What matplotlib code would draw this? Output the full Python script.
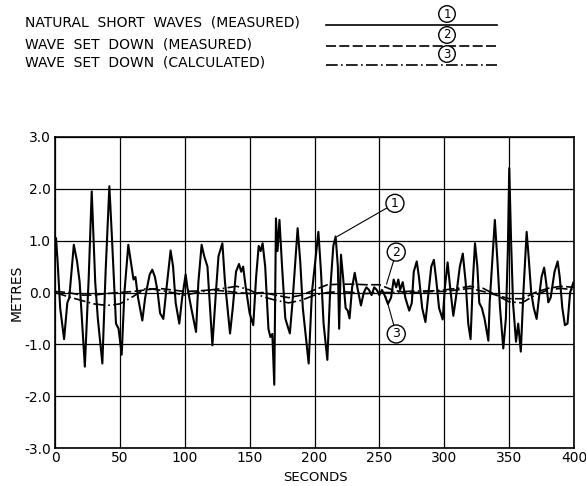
import numpy as np
import matplotlib
matplotlib.use("Agg")
import matplotlib.pyplot as plt

# ---- data ----
short_t = [0, 0.8, 2, 4, 7, 9.5, 11, 14.5, 17, 19, 23, 26, 28.3, 31, 33, 36.5, 39, 41.9, 44, 47, 49,
           51.4, 53.5, 56.5, 59, 60.5, 62, 64, 67.3, 69.5, 71, 73, 75, 77, 79, 81, 83.5, 86, 89.1, 91,
           93, 95.8, 98, 100.7, 102, 105, 108.7, 110.5, 113, 115, 117.5, 121.3, 124, 126, 129, 131,
           134.9, 137, 139.5, 141.8, 143.5, 145, 147, 150, 152.8, 155, 157, 158.5, 160, 162, 164.5,
           166, 167.5, 169, 170.3, 171.5, 173, 175, 177.5, 181, 183, 187, 189, 191, 194, 195.5, 198,
           203, 205, 207, 209.9, 212, 214.5, 216.3, 218, 219, 220.4, 222, 224, 225.6, 227, 229, 231,
           233, 235.8, 238, 240, 242, 244, 246, 248, 250, 252, 254, 256.6, 259, 261, 263, 264.6, 266,
           268, 270, 273, 275, 276.5, 278.8, 280.5, 283, 285.5, 287.5, 290, 292, 294, 296, 298.8,
           300.5, 302.6, 304.5, 307, 309, 312, 314.3, 316.5, 318.5, 320.3, 322, 323.7, 325.5, 327,
           329, 331, 334, 335, 337, 339, 341, 343, 345.5, 347.5, 349, 350.1, 351.5, 353, 355.3, 357,
           359, 361, 363.5, 365, 367, 369, 371.2, 373, 375, 377, 378.5, 380.2, 382, 385, 387.4, 389,
           391, 393, 395, 397, 399.5]
short_v = [0.7, 1.05, 0.6, -0.3, -0.9, -0.2, -0.1, 0.92, 0.6, 0.2, -1.43, 0.3, 1.95, 0.2, -0.5, -1.37,
           0.4, 2.05, 1.0, -0.6, -0.7, -1.2, 0.0, 0.92, 0.5, 0.25, 0.3, -0.1, -0.54, -0.1, 0.1, 0.35,
           0.44, 0.3, 0.03, -0.4, -0.51, 0.1, 0.81, 0.5, -0.2, -0.6, -0.1, 0.35, 0.1, -0.3, -0.76, 0.2,
           0.92, 0.7, 0.5, -1.02, 0.0, 0.7, 0.95, 0.2, -0.79, -0.3, 0.4, 0.55, 0.4, 0.5, 0.1, -0.4,
           -0.63, 0.3, 0.9, 0.8, 0.95, 0.5, -0.7, -0.86, -0.8, -1.78, 1.43, 0.8, 1.4, 0.5, -0.5, -0.79,
           -0.2, 1.24, 0.6, -0.3, -1.0, -1.37, 0.0, 1.17, 0.4, -0.6, -1.3, 0.0, 0.9, 1.08, 0.5, -0.7,
           0.73, 0.3, -0.3, -0.35, -0.5, 0.1, 0.38, 0.1, -0.25, 0.0, 0.1, 0.05, -0.05, 0.1, 0.05,
           -0.05, 0.05, -0.05, -0.22, -0.1, 0.25, 0.1, 0.25, 0.05, 0.2, -0.1, -0.35, -0.2, 0.4, 0.6,
           0.3, -0.3, -0.57, -0.1, 0.5, 0.63, 0.2, -0.3, -0.52, 0.1, 0.58, 0.1, -0.45, -0.1, 0.5, 0.75,
           0.2, -0.6, -0.9, 0.2, 0.95, 0.5, -0.2, -0.3, -0.5, -0.93, -0.2, 0.6, 1.4, 0.6, -0.3, -1.08,
           -0.5, 0.8, 2.4, 1.0, -0.2, -0.95, -0.6, -1.14, 0.0, 1.17, 0.7, 0.0, -0.3, -0.51, -0.1, 0.3,
           0.48, 0.2, -0.19, -0.1, 0.4, 0.6, 0.3, -0.3, -0.63, -0.6, 0.0, 0.19]

setdown_t = [0, 10, 20, 30, 40, 50, 60, 70, 80, 90, 100, 110, 120, 130, 140, 150, 160, 170, 180, 190,
             200, 210, 220, 230, 240, 250, 260, 270, 280, 290, 300, 310, 320, 330, 340, 350, 360, 370,
             380, 390, 400]
setdown_measured = [0.02, 0.0, -0.05, -0.05, -0.02, 0.0, 0.02, 0.05, 0.08, 0.05, 0.02, 0.03, 0.05,
                    0.03, 0.0, -0.02, 0.0, -0.05, -0.1, -0.05, 0.05, 0.15, 0.16, 0.16, 0.15, 0.15,
                    0.05, 0.0, 0.0, 0.02, 0.02, 0.05, 0.08, 0.02, -0.05, -0.12, -0.12, 0.0, 0.08,
                    0.12, 0.1]
setdown_calculated = [0.0, -0.08, -0.15, -0.22, -0.25, -0.22, -0.08, 0.08, 0.05, 0.0, -0.05, 0.0, 0.05,
                      0.08, 0.12, 0.05, -0.08, -0.15, -0.2, -0.15, -0.05, 0.0, 0.02, 0.0, -0.02, 0.0,
                      0.0, 0.02, 0.03, 0.03, 0.05, 0.08, 0.12, 0.08, -0.05, -0.18, -0.2, -0.05, 0.05,
                      0.08, 0.05]

legend_labels = ["NATURAL  SHORT  WAVES  (MEASURED)",
                 "WAVE  SET  DOWN  (MEASURED)",
                 "WAVE  SET  DOWN  (CALCULATED)"]
x_ticks = [0, 50, 100, 150, 200, 250, 300, 350, 400]
y_ticks = [3.0, 2.0, 1.0, 0.0, -1.0, -2.0, -3.0]

W, H = 586, 486
fig = plt.figure(figsize=(W / 100, H / 100), dpi=100)
ax = fig.add_axes([55 / W, 1 - 448 / H, (574 - 55) / W, (448 - 137) / H])

ax.plot(short_t, short_v, color="black", lw=1.5, solid_joinstyle="round")
ax.plot(setdown_t, setdown_measured, color="black", lw=1.2, ls=(0, (6, 2)))
ax.plot(setdown_t, setdown_calculated, color="black", lw=1.2, ls=(0, (7, 2, 1, 2)))

ax.set_xlim(0, 400)
ax.set_ylim(-3, 3)
ax.set_xticks(x_ticks)
ax.set_yticks(y_ticks)
ax.set_xticklabels([str(v) for v in x_ticks], fontsize=10)
ax.set_yticklabels([f"{v:.1f}" for v in y_ticks], fontsize=10)
ax.tick_params(length=0)
ax.tick_params(axis="x", pad=2)
ax.tick_params(axis="y", pad=3)
ax.grid(True, color="black", lw=0.9)
for s in ax.spines.values():
    s.set_linewidth(1.2)
ax.set_ylabel("METRES", fontsize=10, labelpad=0)

def fx(px):
    return px / W
def fy(py):
    return 1 - py / H

fig.text(fx(315), fy(477), "SECONDS", fontsize=9.5, ha="center", va="center")

# circled annotations
circ = dict(boxstyle="circle,pad=0.2", fc="white", ec="black", lw=1.0)
ax.annotate("1", xy=(217.5, 1.08), xytext=(262, 1.72), fontsize=9, ha="center", va="center",
            bbox=circ, arrowprops=dict(arrowstyle="-", lw=0.8, color="black", shrinkA=0, shrinkB=0))
ax.annotate("2", xy=(255.5, 0.16), xytext=(263, 0.78), fontsize=9, ha="center", va="center",
            bbox=circ, arrowprops=dict(arrowstyle="-", lw=0.8, color="black", shrinkA=0, shrinkB=0))
ax.annotate("3", xy=(255, -0.08), xytext=(263, -0.8), fontsize=9, ha="center", va="center",
            bbox=circ, arrowprops=dict(arrowstyle="-", lw=0.8, color="black", shrinkA=0, shrinkB=0))

# legend at top (figure pixel coords)
rows_y = [23, 44, 63]
styles = ["-", (0, (6, 2)), (0, (7, 2, 1, 2))]
for i, (lab, yy, st) in enumerate(zip(legend_labels, rows_y, styles)):
    fig.text(fx(25), fy(yy), lab, fontsize=10, ha="left", va="center")
    fig.add_artist(plt.Line2D([fx(326), fx(497)], [fy(yy + 2), fy(yy + 2)], color="black",
                              lw=1.2, ls=st))
    fig.text(fx(447), fy(yy - 9), str(i + 1), fontsize=8.5, ha="center", va="center",
             bbox=dict(boxstyle="circle,pad=0.15", fc="white", ec="black", lw=1.0))

fig.savefig("out.png", dpi=100)
